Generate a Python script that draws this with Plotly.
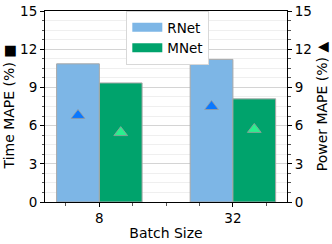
import plotly.graph_objects as go

batch_sizes = ['8', '32']
time_rnet = [10.85, 11.2]
time_mnet = [9.35, 8.1]
power_rnet = [6.8, 7.5]
power_mnet = [5.45, 5.7]

xpos = list(range(len(batch_sizes)))
BW = 0.32

FONT = "DejaVu Sans"
c_rnet = "#7db6e6"
c_mnet = "#00a36c"
c_rnet_m = "#0a78ff"
c_mnet_m = "#2af08e"
edge = "#a8a8a8"

fig = go.Figure()
fig.add_trace(go.Bar(x=xpos, y=time_rnet, name="RNet", width=BW, offset=-BW, showlegend=False,
                     legendgroup="RNet",
                     marker=dict(color=c_rnet, line=dict(color=edge, width=1))))
fig.add_trace(go.Bar(x=xpos, y=time_mnet, name="MNet", width=BW, offset=0, showlegend=False,
                     legendgroup="MNet",
                     marker=dict(color=c_mnet, line=dict(color=edge, width=1))))
# legend entries (wide patches like the reference)
fig.add_trace(go.Scatter(x=[None], y=[None], name="RNet", mode="lines", legendgroup="RNet",
                         line=dict(color=c_rnet, width=9)))
fig.add_trace(go.Scatter(x=[None], y=[None], name="MNet", mode="lines", legendgroup="MNet",
                         line=dict(color=c_mnet, width=9)))
fig.add_trace(go.Scatter(x=[x - BW / 2 for x in xpos], y=power_rnet, yaxis="y2", mode="markers",
                         showlegend=False,
                         marker=dict(symbol="triangle-up", size=12, color=c_rnet_m,
                                     line=dict(color="#9a9a9a", width=0.8))))
fig.add_trace(go.Scatter(x=[x + BW / 2 for x in xpos], y=power_mnet, yaxis="y2", mode="markers",
                         showlegend=False,
                         marker=dict(symbol="triangle-up", size=12, color=c_mnet_m,
                                     line=dict(color="#9a9a9a", width=0.8))))

tickfont = dict(family=FONT, size=13.5, color="black")
titlefont = dict(family=FONT, size=14, color="black")

fig.update_layout(
    width=332, height=244,
    margin=dict(l=45, r=45, t=11, b=42, autoexpand=False),
    paper_bgcolor="white", plot_bgcolor="white",
    font=dict(family=FONT, size=14, color="black"),
    barmode="overlay",
    showlegend=True,
    legend=dict(x=0.336, y=1.0, xanchor="left", yanchor="top",
                bgcolor="white", bordercolor="#d8d8d8", borderwidth=1,
                font=dict(family=FONT, size=13.5, color="black"), tracegroupgap=0,
                itemwidth=30),
    xaxis=dict(range=[-0.407, 1.405], tickvals=xpos, ticktext=batch_sizes, tickfont=tickfont,
               showline=True, linecolor="black", linewidth=1, mirror=True,
               ticks="outside", ticklen=4, tickcolor="black",
               showgrid=False, zeroline=False, automargin=False,
               minor=dict(dtick=0.25, tick0=0, ticks="outside", ticklen=2.5, tickcolor="#555", showgrid=False),
               title=dict(text="Batch Size", font=titlefont, standoff=2)),
    yaxis=dict(range=[0, 15], dtick=3, tick0=0, tickfont=tickfont,
               showline=True, linecolor="black", linewidth=1,
               ticks="outside", ticklen=4, tickcolor="black",
               showgrid=True, gridcolor="#d4d4d4", gridwidth=1, zeroline=False, automargin=False,
               minor=dict(dtick=0.75, ticks="outside", ticklen=2.5, tickcolor="#555",
                          showgrid=True, gridcolor="#efefef", gridwidth=1),
               title=dict(text="Time MAPE (%) ■", font=titlefont, standoff=2)),
    yaxis2=dict(range=[0, 15], dtick=3, tick0=0, overlaying="y", side="right", tickfont=tickfont,
                showline=True, linecolor="black", linewidth=1,
                ticks="outside", ticklen=4, tickcolor="black",
                showgrid=False, zeroline=False, automargin=False,
                minor=dict(dtick=0.75, ticks="outside", ticklen=2.5, tickcolor="#555", showgrid=False),
                title=dict(text="Power MAPE (%) ▲", font=titlefont, standoff=6)),
)

fig.write_html("out.html", config={"displayModeBar": False},
               post_script="document.body.style.margin='0px';")
